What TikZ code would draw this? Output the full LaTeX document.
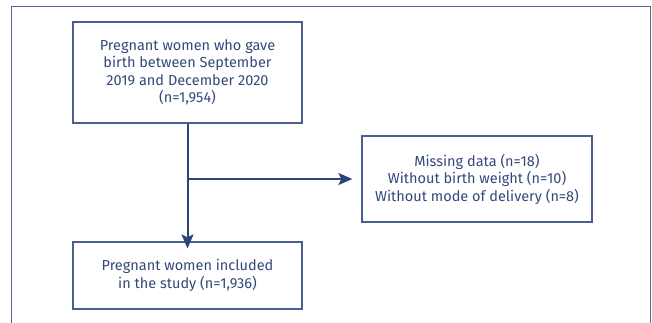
\documentclass[tikz,border=0pt]{standalone}
\usepackage{fontspec}
\setmainfont{Fira Sans}
\usetikzlibrary{arrows.meta}
\definecolor{navy}{HTML}{2C4478}
\definecolor{framec}{HTML}{546792}
\definecolor{boxc}{HTML}{4A5F8F}
\definecolor{txt}{HTML}{34497A}
\begin{document}
\begin{tikzpicture}[x=1pt,y=-1pt,
  flowbox/.style={draw=boxc,line width=1.2pt,fill=white,inner sep=0pt,
    text=txt,align=center,font=\fontsize{14.5}{17.5}\selectfont},
  flowarrow/.style={draw=navy,line width=2pt,-{Stealth[length=14pt,width=12pt,inset=3pt]}}]
\useasboundingbox (0,0) rectangle (652,323);
\fill[white] (0,0) rectangle (652,323);
\draw[draw=framec,line width=1.5pt] (11.5,340) -- (11.5,6.5) -- (650.5,6.5) -- (650.5,340);
\node[flowbox,minimum width=229pt,minimum height=101pt] (src) at (187.5,72.5)
  {Pregnant women who gave\\birth between September\\2019 and December 2020\\(n=1,954)};
\node[flowbox,minimum width=230pt,minimum height=86pt] (excl) at (477,179)
  {Missing data (n=18)\\Without birth weight (n=10)\\Without mode of delivery (n=8)};
\node[flowbox,minimum width=229pt,minimum height=67pt] (incl) at (187.5,275.5)
  {Pregnant women included\\in the study (n=1,936)};
\coordinate (split) at (src.south |- excl.west);
\draw[flowarrow] (src.south) -- ([yshift=-7pt]incl.north);
\draw[flowarrow] (split) -- ([xshift=-9pt]excl.west);
\end{tikzpicture}
\end{document}
